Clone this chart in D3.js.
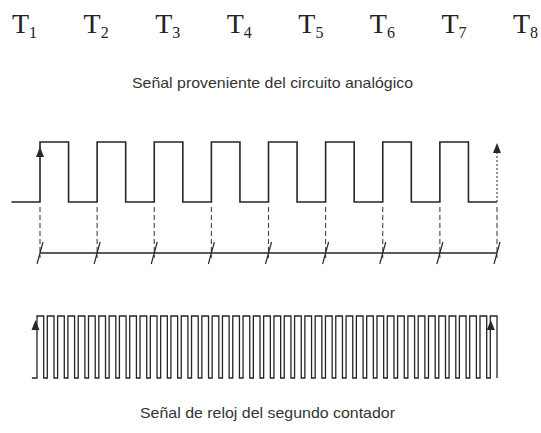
<!DOCTYPE html>
<html>
<head>
<meta charset="utf-8">
<script src="https://cdn.jsdelivr.net/npm/d3@7"></script>
<style>
  body { margin: 0; background: #fff; }
</style>
</head>
<body>
<script>
// period labels T1..T8
const periodLabels = ["1", "2", "3", "4", "5", "6", "7", "8"];
// analog signal level per half period, starting half a period before T1
const analogLevels = [0, 1, 0, 1, 0, 1, 0, 1, 0, 1, 0, 1, 0, 1, 0, 1, 0];
// rising edges of the analog signal (in periods)
const edgeTimes = [0, 1, 2, 3, 4, 5, 6, 7, 8];
// clock of the second counter
const clockPulses = 45;
const clockDuty = 0.65;
const titleTop = "Señal proveniente del circuito analógico";
const titleBottom = "Señal de reloj del segundo contador";

const W = 541, H = 433;
const ink = "#262626";

const svg = d3.select("body").append("svg")
    .attr("width", W)
    .attr("height", H);

// scales
const x = d3.scaleLinear().domain([0, 8]).range([40, 497]);
const y = d3.scaleLinear().domain([0, 1]).range([202, 142]);
const xc = d3.scaleLinear().domain([0, clockPulses - 1 + clockDuty]).range([37, 497]);
const yc = d3.scaleLinear().domain([0, 1]).range([378, 316]);
const xl = d3.scalePoint().domain(periodLabels).range([12, 513]);

// T labels
const lbl = svg.selectAll("text.tl")
    .data(periodLabels)
    .join("text")
    .attr("class", "tl")
    .attr("x", d => xl(d))
    .attr("y", 33)
    .attr("font-family", "Liberation Serif, Times New Roman, serif")
    .attr("font-size", 28)
    .attr("fill", "#222");
lbl.append("tspan").text("T");
lbl.append("tspan")
    .attr("font-size", 16)
    .attr("dy", 5)
    .text(d => d);

// titles
svg.append("text")
    .attr("x", 132).attr("y", 88)
    .attr("textLength", 281).attr("lengthAdjust", "spacingAndGlyphs")
    .attr("font-family", "Liberation Sans, Arial, sans-serif")
    .attr("font-size", 15)
    .attr("fill", "#333")
    .text(titleTop);

svg.append("text")
    .attr("x", 140).attr("y", 418)
    .attr("textLength", 255).attr("lengthAdjust", "spacingAndGlyphs")
    .attr("font-family", "Liberation Sans, Arial, sans-serif")
    .attr("font-size", 15)
    .attr("fill", "#333")
    .text(titleBottom);

// analog square wave
const analogPts = analogLevels.map((v, i) => ({t: -0.5 + i * 0.5, v: v}));
analogPts.push({t: 8, v: 0});

const stepLine = d3.line()
    .x(d => x(d.t))
    .y(d => y(d.v))
    .curve(d3.curveStepAfter);

svg.append("path")
    .attr("d", stepLine(analogPts))
    .attr("fill", "none")
    .attr("stroke", ink)
    .attr("stroke-width", 1.6);

// dotted rise at the last edge
svg.append("line")
    .attr("x1", x(8)).attr("x2", x(8))
    .attr("y1", y(0)).attr("y2", y(1) + 8)
    .attr("stroke", ink)
    .attr("stroke-width", 1)
    .attr("stroke-dasharray", "2,2");

// arrows on first and last edge
const arrow = (cx, tipY) => `M${cx},${tipY} L${cx - 4},${tipY + 10} L${cx + 4},${tipY + 10} Z`;
svg.append("path").attr("d", arrow(x(0), y(1) + 5)).attr("fill", ink);
svg.append("path").attr("d", arrow(x(8), y(1) + 1)).attr("fill", ink);

// dashed drop lines to the time axis
svg.selectAll("line.drop")
    .data(edgeTimes)
    .join("line")
    .attr("class", "drop")
    .attr("x1", d => x(d)).attr("x2", d => x(d))
    .attr("y1", y(0) + 5).attr("y2", 258)
    .attr("stroke", "#444")
    .attr("stroke-width", 1.1)
    .attr("stroke-dasharray", "5,3");

// time axis
svg.append("line")
    .attr("x1", x(0)).attr("x2", x(8))
    .attr("y1", 253).attr("y2", 253)
    .attr("stroke", ink)
    .attr("stroke-width", 1.6);

svg.selectAll("line.tick")
    .data(edgeTimes)
    .join("line")
    .attr("class", "tick")
    .attr("x1", d => x(d) - 3).attr("x2", d => x(d) + 3)
    .attr("y1", 264).attr("y2", 242)
    .attr("stroke", ink)
    .attr("stroke-width", 1.2);

// clock signal
const clockPts = [{t: -0.5, v: 0}];
d3.range(clockPulses).forEach(k => {
    clockPts.push({t: k, v: 1});
    clockPts.push({t: k + clockDuty, v: 0});
});

const clockLine = d3.line()
    .x(d => xc(d.t))
    .y(d => yc(d.v))
    .curve(d3.curveStepAfter);

svg.append("path")
    .attr("d", clockLine(clockPts))
    .attr("fill", "none")
    .attr("stroke", ink)
    .attr("stroke-width", 1.3);

svg.append("path").attr("d", arrow(xc(0) - 1.5, yc(1) + 4)).attr("fill", ink);
svg.append("path").attr("d", arrow(xc(clockPulses - 1) + 0.5, yc(1) + 4)).attr("fill", ink);
</script>
</body>
</html>
